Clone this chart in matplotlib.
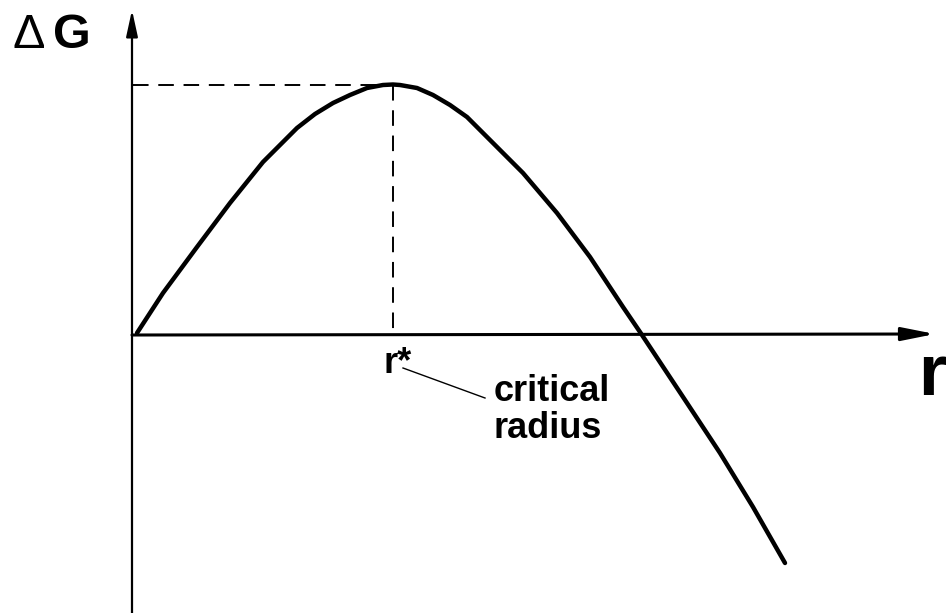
import numpy as np
import matplotlib.pyplot as plt

plt.rcParams['font.family'] = ['Liberation Sans', 'DejaVu Sans']

# free energy curve (arbitrary units, origin at axes cross)
r = [4, 30, 64, 97, 130, 164, 182, 200, 217, 234, 250, 260, 267, 284,
     300, 317, 334, 357, 390, 424, 457, 490, 507, 554, 587, 620, 652]
dG = [2, 42, 88, 132, 173, 207, 221, 232, 240, 247, 250, 250.5, 250, 247,
      240, 230, 218, 195, 162, 122, 78, 28, 3, -68, -118, -172, -228]
r_crit = 260
dG_max = 250

fig = plt.figure(figsize=(9.47, 6.13), dpi=100)
ax = fig.add_axes([0, 0, 1, 1])
ax.set_xlim(-133, 814)
ax.set_ylim(-278, 335)
ax.axis('off')

# axes with arrows
ax.annotate('', xy=(-1, 325), xytext=(-1, -278),
            arrowprops=dict(arrowstyle='-|>,head_length=1.6,head_width=0.35',
                            lw=1.6, color='black', shrinkA=0, shrinkB=0))
ax.annotate('', xy=(802, 1), xytext=(-1, 0),
            arrowprops=dict(arrowstyle='-|>,head_length=2.0,head_width=0.4',
                            lw=2.2, color='black', shrinkA=0, shrinkB=0))

# the curve
ax.plot(r, dG, color='black', lw=3.2, solid_capstyle='round',
        solid_joinstyle='round')

# dashed guides to maximum
ax.plot([0, r_crit], [dG_max, dG_max], color='black', lw=1.4,
        dashes=(8, 5))
ax.plot([r_crit, r_crit], [dG_max, 0], color='black', lw=1.4,
        dashes=(8, 5))

# labels
ax.text(-121, 287, '\u0394', fontsize=35, ha='left', va='baseline')
ax.text(-80, 287, 'G', fontsize=35, fontweight='bold', ha='left',
        va='baseline')
ax.text(785, -60, 'r', fontsize=52, fontweight='bold', ha='left',
        va='baseline')
ax.text(250, -38, 'r*', fontsize=26, fontweight='bold', ha='left',
        va='baseline')
ax.plot([270, 352], [-33, -63], color='black', lw=1.0)
ax.text(361, -66, 'critical', fontsize=26, fontweight='bold', ha='left',
        va='baseline')
ax.text(361, -103, 'radius', fontsize=26, fontweight='bold', ha='left',
        va='baseline')

fig.savefig('out.png', dpi=100)
